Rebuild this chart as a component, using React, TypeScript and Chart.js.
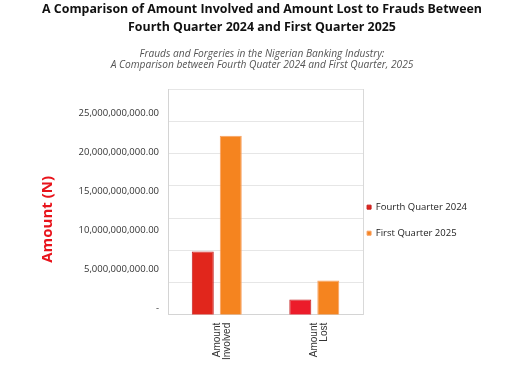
import React, { useEffect, useRef } from "react";
import { Chart, registerables } from "chart.js";

Chart.register(...registerables);

const titleLines = [
  "A Comparison of Amount Involved and Amount Lost to Frauds Between",
  "Fourth Quarter 2024 and First Quarter 2025",
];
const subtitleLines = [
  "Frauds and Forgeries in the Nigerian Banking Industry:",
  "A Comparison between Fourth Quater 2024 and First Quarter, 2025",
];
const categories: string[][] = [
  ["Amount", "Involved"],
  ["Amount", "Lost"],
];
const seriesNames = ["Fourth Quarter 2024", "First Quarter 2025"];
const fourthQuarter2024 = [8.1e9, 1.95e9];
const firstQuarter2025 = [22.9e9, 4.4e9];
const yAxisTitle = "Amount (N)";
const yTickValues = [0, 5e9, 10e9, 15e9, 20e9, 25e9];
const yMax = 28.9e9;
const gridSteps = 7;

const redFill = ["#E1261C", "#EC1C2A"];
const orangeFill = "#F5841F";

function formatAmount(v: number): string {
  if (v === 0) return "-";
  const whole = Math.round(v).toString();
  const withCommas = whole.replace(/\B(?=(\d{3})+(?!\d))/g, ",");
  return withCommas + ".00";
}

export default function App() {
  const ref = useRef<HTMLCanvasElement | null>(null);

  useEffect(() => {
    if (!ref.current) return;
    const chart = new Chart(ref.current, {
      type: "bar",
      data: {
        labels: categories,
        datasets: [
          {
            label: seriesNames[0],
            data: fourthQuarter2024,
            backgroundColor: redFill,
            borderColor: "#C41E1E",
            borderWidth: 1,
            categoryPercentage: 0.574,
            barPercentage: 0.786,
            yAxisID: "y",
          },
          {
            label: seriesNames[1],
            data: firstQuarter2025,
            backgroundColor: orangeFill,
            borderColor: "#F8A060",
            borderWidth: 1,
            categoryPercentage: 0.574,
            barPercentage: 0.786,
            yAxisID: "y",
          },
        ],
      },
      options: {
        responsive: false,
        animation: false,
        devicePixelRatio: 1,
        layout: { padding: { left: 35, right: 35, top: 89, bottom: 21 } },
        plugins: {
          tooltip: { enabled: false },
          legend: {
            position: "right",
            align: "start",
            fullSize: false,
            maxWidth: 200,
            title: { display: true, text: " ", padding: { top: 95, bottom: 0 } },
            labels: {
              boxWidth: 4,
              boxHeight: 4,
              padding: 4,
              color: "#222",
              font: { family: "Open Sans", size: 9.5, lineHeight: 1.16 },
              generateLabels: (c: any) =>
                Chart.defaults.plugins.legend.labels
                  .generateLabels(c)
                  .map((l: any) => ({ ...l, text: [l.text, ""] })),
            },
          },
        },
        scales: {
          x: {
            grid: { display: false, drawTicks: false },
            border: { color: "#d4d4d4" },
            ticks: {
              minRotation: 90,
              maxRotation: 90,
              padding: 8,
              color: "#333",
              font: { family: "Liberation Sans", size: 10, lineHeight: 1 },
            },
          },
          y: {
            position: "left",
            min: 0,
            max: yMax,
            grid: { display: false, drawTicks: false },
            border: { color: "#d4d4d4" },
            afterBuildTicks: (s: any) => {
              s.ticks = yTickValues.map((v) => ({ value: v }));
            },
            afterFit: (s: any) => {
              s.width = 133;
            },
            ticks: {
              padding: 9,
              labelOffset: -6,
              color: "#333",
              font: { family: "Open Sans", size: 9.5 },
              callback: (v: any) => formatAmount(Number(v)),
            },
            title: {
              display: true,
              text: yAxisTitle + "         ",
              color: "#E8141C",
              font: { family: "Open Sans", size: 15, weight: "bold" },
              padding: { top: 4, bottom: 20 },
            },
          },
          y2: {
            position: "right",
            min: 0,
            max: gridSteps,
            grid: { color: "#e6e6e6", drawTicks: false },
            border: { color: "#d9d9d9" },
            ticks: { display: false, stepSize: 1 },
          },
        },
      } as any,
    });
    return () => chart.destroy();
  }, []);

  return (
    <div
      style={{
        position: "absolute",
        left: 0,
        top: 0,
        width: 512,
        height: 389,
        background: "#fff",
        overflow: "hidden",
      }}
    >
      <canvas ref={ref} width={512} height={389} style={{ position: "absolute", left: 0, top: 0 }} />
      <div
        style={{
          position: "absolute",
          left: 12,
          width: 500,
          top: 0,
          textAlign: "center",
          fontFamily: '"Open Sans", sans-serif',
          fontWeight: 700,
          fontSize: 12.4,
          lineHeight: "18px",
          color: "#111",
          whiteSpace: "nowrap",
        }}
      >
        {titleLines.map((t) => (
          <div key={t}>{t}</div>
        ))}
      </div>
      <div
        style={{
          position: "absolute",
          left: 12,
          width: 500,
          top: 48,
          textAlign: "center",
          fontFamily: '"Open Sans", sans-serif',
          fontStyle: "italic",
          fontSize: 10.2,
          lineHeight: "11px",
          color: "#555",
          whiteSpace: "nowrap",
        }}
      >
        {subtitleLines.map((t) => (
          <div key={t}>{t}</div>
        ))}
      </div>
    </div>
  );
}
